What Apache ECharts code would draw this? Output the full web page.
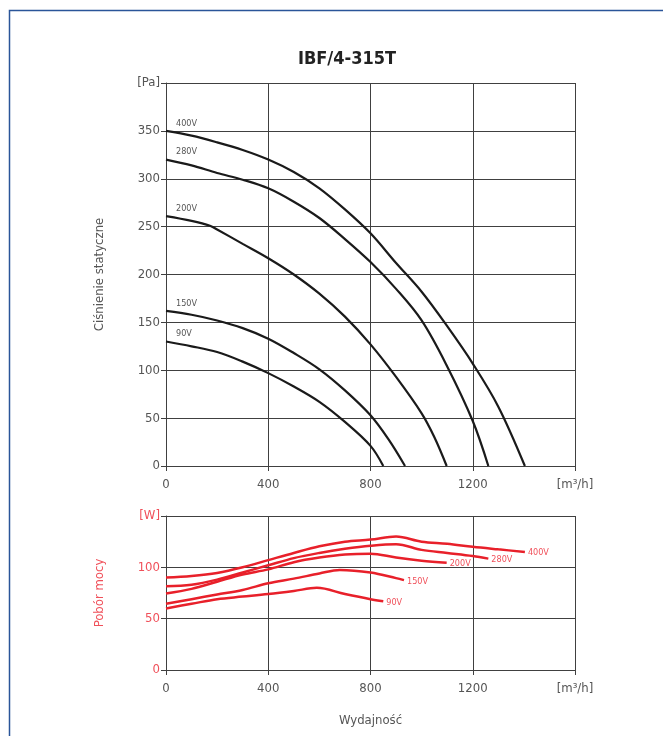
<!DOCTYPE html>
<html>
<head>
<meta charset="utf-8">
<script src="https://cdn.jsdelivr.net/npm/echarts@6/dist/echarts.min.js"></script>
<style>
  html, body { margin: 0; padding: 0; background: #fff; }
  #chart { width: 663px; height: 736px; }
</style>
</head>
<body>
<div id="chart"></div>
<script>
// Fan curves: static pressure [Pa] vs airflow [m3/h], per supply voltage
const pressure400V = [[0,350],[100,345],[200,338],[300,330],[400,320],[500,307],[600,290],[700,268],[800,243],[900,212],[1000,182],[1100,146],[1200,107],[1300,62],[1404,0]];
const pressure280V = [[0,320],[100,314],[200,306],[300,299],[400,290],[500,276],[600,259],[700,237],[800,213],[900,185],[1000,152],[1100,104],[1200,47],[1261,0]];
const pressure200V = [[0,261],[100,256],[172,251],[200,247],[300,232],[400,217],[500,200],[600,180],[700,156],[800,127],[900,93],[1000,55],[1050,30],[1098,0]];
const pressure150V = [[0,162],[100,158],[200,152],[300,144],[400,133],[500,118],[600,101],[700,79],[800,53],[870,28],[935,0]];
const pressure90V  = [[0,130],[100,125],[200,119],[300,109],[400,97],[500,83],[600,67],[700,46],[800,21],[850,0]];

// Power consumption [W] vs airflow [m3/h]
const power400V = [[0,90],[100,91.5],[200,94.5],[300,100],[400,107],[500,114],[600,120.5],[700,125],[800,127],[900,130],[1000,125],[1100,123],[1200,120],[1300,117.5],[1404,115]];
const power280V = [[0,81.5],[100,83],[200,88],[300,95],[400,102],[500,109],[600,114],[700,118],[800,121],[900,122.5],[1000,117],[1100,114],[1200,111],[1261,108.5]];
const power200V = [[0,74.5],[100,79],[200,86],[300,93],[400,98],[500,105],[600,109.5],[700,112.5],[800,113.3],[900,109.5],[1000,106.5],[1098,104.5]];
const power150V = [[0,64.5],[100,69],[200,73.5],[300,78],[400,84.5],[500,89],[600,94],[680,97.5],[800,95],[900,89.5],[931,87.5]];
const power90V  = [[0,60],[100,64.5],[200,69],[300,71.5],[400,74],[500,77],[590,80],[700,74],[800,69],[850,67]];

const voltages = ['400V', '280V', '200V', '150V', '90V'];
const pressureSets = [pressure400V, pressure280V, pressure200V, pressure150V, pressure90V];
const powerSets = [power400V, power280V, power200V, power150V, power90V];

const flowTicks = { min: 0, max: 1600, interval: 400, unit: '[m\u00B3/h]' };
const pressureTicks = { min: 0, max: 400, interval: 50, unit: '[Pa]' };
const powerTicks = { min: 0, max: 150, interval: 50, unit: '[W]' };

const FONT = "'Liberation Sans Narrow', 'DejaVu Sans Condensed', 'Roboto', sans-serif";
const GRID_COLOR = '#404040';
const GRAY_TEXT = '#555';
const RED = '#e8202a';
const RED_TEXT = '#f0505a';

function xAxisFor(gridIndex, name) {
  return {
    type: 'value', gridIndex,
    min: flowTicks.min, max: flowTicks.max, interval: flowTicks.interval,
    name: name || '', nameLocation: 'middle', nameGap: 44,
    nameTextStyle: { color: GRAY_TEXT, fontSize: 13, fontFamily: FONT },
    axisLine: { show: true, lineStyle: { color: GRID_COLOR, width: 1 } },
    axisTick: { show: true, length: 5, lineStyle: { color: GRID_COLOR } },
    axisLabel: {
      color: GRAY_TEXT, fontSize: 13, fontFamily: FONT, margin: 12,
      formatter: v => v === flowTicks.max ? flowTicks.unit : String(v)
    },
    splitLine: { show: true, lineStyle: { color: GRID_COLOR, width: 1 } }
  };
}

function yAxisFor(gridIndex, ticks, name, textColor) {
  return {
    type: 'value', gridIndex,
    min: ticks.min, max: ticks.max, interval: ticks.interval,
    name, nameLocation: 'middle', nameGap: 60,
    nameTextStyle: { color: textColor, fontSize: 13, fontFamily: FONT },
    axisLine: { show: true, lineStyle: { color: GRID_COLOR, width: 1 } },
    axisTick: { show: true, length: 5, lineStyle: { color: GRID_COLOR } },
    axisLabel: {
      color: textColor, fontSize: 13, fontFamily: FONT, margin: 6,
      formatter: v => v === ticks.max ? ticks.unit : String(v)
    },
    splitLine: { show: true, lineStyle: { color: GRID_COLOR, width: 1 } }
  };
}

const series = [];
pressureSets.forEach((pts, i) => {
  series.push({
    type: 'line', xAxisIndex: 0, yAxisIndex: 0,
    data: pts, smooth: 0.35,
    symbol: 'circle', symbolSize: 0, showSymbol: true,
    lineStyle: { color: '#1a1a1a', width: 2.2 },
    itemStyle: { color: '#1a1a1a' },
    label: {
      show: true, position: [10, -12], color: GRAY_TEXT, fontSize: 9, fontFamily: FONT,
      formatter: p => p.dataIndex === 0 ? voltages[i] : ''
    },
    silent: true, z: 3
  });
});
powerSets.forEach((pts, i) => {
  series.push({
    type: 'line', xAxisIndex: 1, yAxisIndex: 1,
    data: pts, smooth: 0.35,
    symbol: 'none',
    lineStyle: { color: RED, width: 2.5 },
    itemStyle: { color: RED },
    endLabel: { show: true, formatter: voltages[i], color: RED_TEXT, fontSize: 9, fontFamily: FONT, distance: 3, offset: [0, 1] },
    silent: true, z: 3
  });
});

const chart = echarts.init(document.getElementById('chart'), null, { renderer: 'canvas' });
chart.setOption({
  animation: false,
  backgroundColor: '#fff',
  title: {
    text: 'IBF/4-315T', left: 342, top: 45, textAlign: 'center',
    textStyle: { fontSize: 18, fontWeight: 'bold', color: '#222', fontFamily: FONT }
  },
  graphic: [{
    type: 'rect', shape: { x: 9.5, y: 10.5, width: 720, height: 800 },
    style: { fill: 'none', stroke: '#2a5599', lineWidth: 1.5 }, silent: true
  }],
  grid: [
    { left: 166, right: 88, top: 83, bottom: 270, containLabel: false },
    { left: 166, right: 88, top: 516, bottom: 66, containLabel: false }
  ],
  xAxis: [xAxisFor(0), xAxisFor(1, 'Wydajno\u015B\u0107')],
  yAxis: [
    yAxisFor(0, pressureTicks, 'Ci\u015Bnienie statyczne', GRAY_TEXT),
    yAxisFor(1, powerTicks, 'Pob\u00F3r mocy', RED_TEXT)
  ],
  series
});
</script>
</body>
</html>
